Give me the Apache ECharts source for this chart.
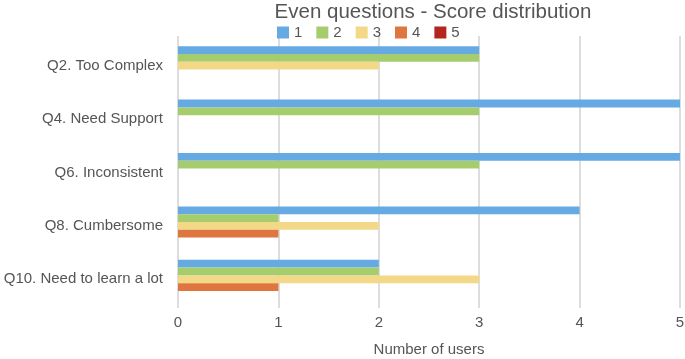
<!DOCTYPE html>
<html><head><meta charset="utf-8">
<script src="https://cdn.jsdelivr.net/npm/echarts@6/dist/echarts.min.js"></script>
<style>html,body{margin:0;padding:0;background:#fff}#c{width:685px;height:359px}</style>
</head><body><div id="c"></div>
<script>
const categories = ["Q2. Too Complex", "Q4. Need Support", "Q6. Inconsistent", "Q8. Cumbersome", "Q10. Need to learn a lot"];
const seriesNames = ["1", "2", "3", "4", "5"];
const score1 = [3, 5, 5, 4, 2];
const score2 = [3, 3, 3, 1, 2];
const score3 = [2, 0, 0, 2, 3];
const score4 = [0, 0, 0, 1, 1];
const score5 = [0, 0, 0, 0, 0];
const xTicks = [0, 1, 2, 3, 4, 5];
const colors = ["#66AAE4", "#A5CD6E", "#F3D888", "#DE773F", "#B3261E"];
const allScores = [score1, score2, score3, score4, score5];
const font = "'Liberation Sans', Arial, sans-serif";
const chart = echarts.init(document.getElementById('c'));
chart.setOption({
  animation: false,
  title: {text: "Even questions - Score distribution", left: 428, textAlign: 'center', top: -3,
    textStyle: {fontFamily: font, fontSize: 20.5, fontWeight: 'normal', color: '#555'}},
  legend: {data: seriesNames, left: 272, top: 20, itemWidth: 12, itemHeight: 12, itemGap: 14,
    icon: 'rect', textStyle: {fontFamily: font, fontSize: 15, color: '#555'}},
  grid: {left: 178, right: 5, top: 39, bottom: 53, containLabel: false, outerBoundsMode: 'none'},
  xAxis: [{
    type: 'value', min: xTicks[0], max: xTicks[xTicks.length - 1], interval: 1,
    name: "Number of users", nameLocation: 'middle', nameGap: 36,
    nameTextStyle: {fontFamily: font, fontSize: 15, color: '#555'},
    axisLine: {show: false},
    axisTick: {show: true, length: 2, lineStyle: {color: '#ddd', width: 2}},
    axisLabel: {fontFamily: font, fontSize: 15, color: '#555', margin: 9},
    splitLine: {show: true, lineStyle: {color: '#ddd', width: 2}}
  }, {
    type: 'value', position: 'top', min: xTicks[0], max: xTicks[xTicks.length - 1], interval: 1,
    axisLine: {show: false}, axisLabel: {show: false}, splitLine: {show: false},
    axisTick: {show: true, length: 3, lineStyle: {color: '#ddd', width: 2}}
  }],
  yAxis: {
    type: 'category', data: categories, inverse: true,
    axisLine: {show: false}, axisTick: {show: false},
    axisLabel: {fontFamily: font, fontSize: 15, color: '#555', margin: 15}
  },
  series: seriesNames.map((n, i) => ({
    name: n, type: 'bar', data: allScores[i], xAxisIndex: 0,
    barGap: '0%', barCategoryGap: '27%',
    itemStyle: {color: colors[i]}
  }))
});
</script></body></html>
